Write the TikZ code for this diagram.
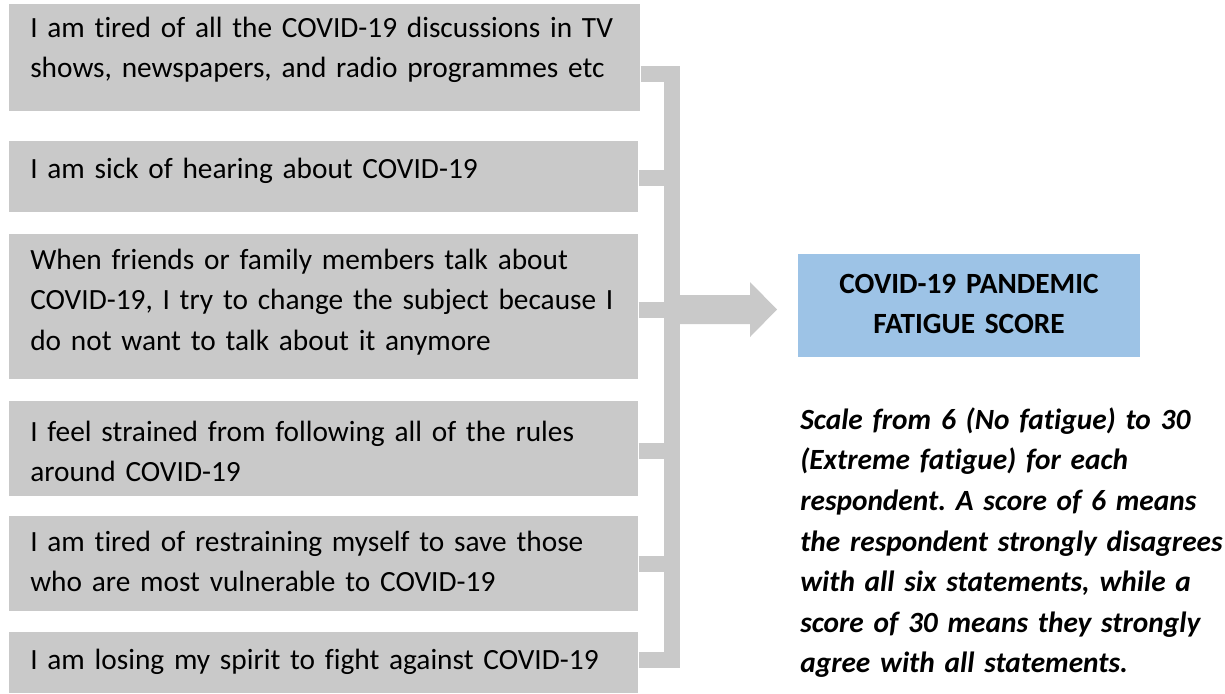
\documentclass[tikz,border=0pt]{standalone}
\usepackage{fontspec}
\setmainfont{Carlito}[Ligatures=NoCommon]
\usetikzlibrary{calc}
\definecolor{boxgray}{HTML}{C9C9C9}
\definecolor{scoreblue}{HTML}{9DC3E6}
\frenchspacing
\begin{document}
\begin{tikzpicture}[x=0.75pt,y=-0.75pt,
  stmtbox/.style={fill=boxgray, inner sep=0pt, anchor=north west},
  stmttext/.style={inner sep=0pt, anchor=north west, text width=470pt, align=left,
    font=\fontsize{22}{30.45}\selectfont\frenchspacing, execute at begin node=\strut},
  bracket/.style={draw=boxgray, line width=12pt, line join=miter, line cap=butt},
  scorebox/.style={fill=scoreblue, inner sep=0pt, minimum width=256.5pt, minimum height=77.25pt,
    text width=240pt, align=center, font=\fontsize{22}{30}\selectfont\bfseries},
  notetext/.style={inner sep=0pt, anchor=north west, text width=330pt, align=left,
    font=\fontsize{22}{30.45}\selectfont\bfseries\itshape\frenchspacing, execute at begin node=\strut}
]
\useasboundingbox (0,0) rectangle (1225,693);

% statement boxes
\node[stmtbox, minimum width=473.25pt, minimum height=80.25pt] (b1) at (9,4) {};
\node[stmtbox, minimum width=471.75pt, minimum height=53.25pt] (b2) at (9,141) {};
\node[stmtbox, minimum width=471.75pt, minimum height=108.75pt] (b3) at (9,234) {};
\node[stmtbox, minimum width=471.75pt, minimum height=71.25pt] (b4) at (9,401) {};
\node[stmtbox, minimum width=471.75pt, minimum height=71.25pt] (b5) at (9,516) {};
\node[stmtbox, minimum width=471.75pt, minimum height=45.75pt] (b6) at (9,632) {};

% statement texts
\node[stmttext] (t1) at (30,8.6) {I am tired of all the COVID-19 discussions in TV\\shows, newspapers, and radio programmes etc};
\node[stmttext] (t2) at (30,149.6) {I am sick of hearing about COVID-19};
\node[stmttext] (t3) at (30,240.6) {When friends or family members talk about\\COVID-19, I try to change the subject because I\\do not want to talk about it anymore};
\node[stmttext] (t4) at (30,412.6) {I feel strained from following all of the rules\\around COVID-19};
\node[stmttext] (t5) at (30,522.6) {I am tired of restraining myself to save those\\who are most vulnerable to COVID-19};
\node[stmttext] (t6) at (30,640.6) {I am losing my spirit to fight against COVID-19};

% bracket junctions
\coordinate (j1) at (672,74);
\coordinate (j2) at (672,178);
\coordinate (j3) at (672,309.5);
\coordinate (j4) at (672,451);
\coordinate (j5) at (672,564);
\coordinate (j6) at (672,660);

\draw[bracket] (b1.east |- j1) -- (j1) -- (j6) -- (b6.east |- j6);
\draw[bracket] (b2.east |- j2) -- (j2);
\draw[bracket] (b3.east |- j3) -- (j3);
\draw[bracket] (b4.east |- j4) -- (j4);
\draw[bracket] (b5.east |- j5) -- (j5);

% score box
\node[scorebox] (score) at (969,305.5) {\strut COVID-19 PANDEMIC\\FATIGUE SCORE\strut};

% arrow from the bracket to the score box
\fill[boxgray] ($(j3)+(8,-14.5)$) -- ++(70,0) -- ++(0,-13) -- ++(27,27.5) -- ++(-27,27.5) -- ++(0,-13) -- ++(-70,0) -- cycle;

% note
\node[notetext] (note) at (800,400.6) {Scale from 6 (No fatigue) to 30\\(Extreme fatigue) for each\\respondent. A score of 6 means\\the respondent strongly disagrees\\with all six statements, while a\\score of 30 means they strongly\\agree with all statements.};
\end{tikzpicture}
\end{document}
